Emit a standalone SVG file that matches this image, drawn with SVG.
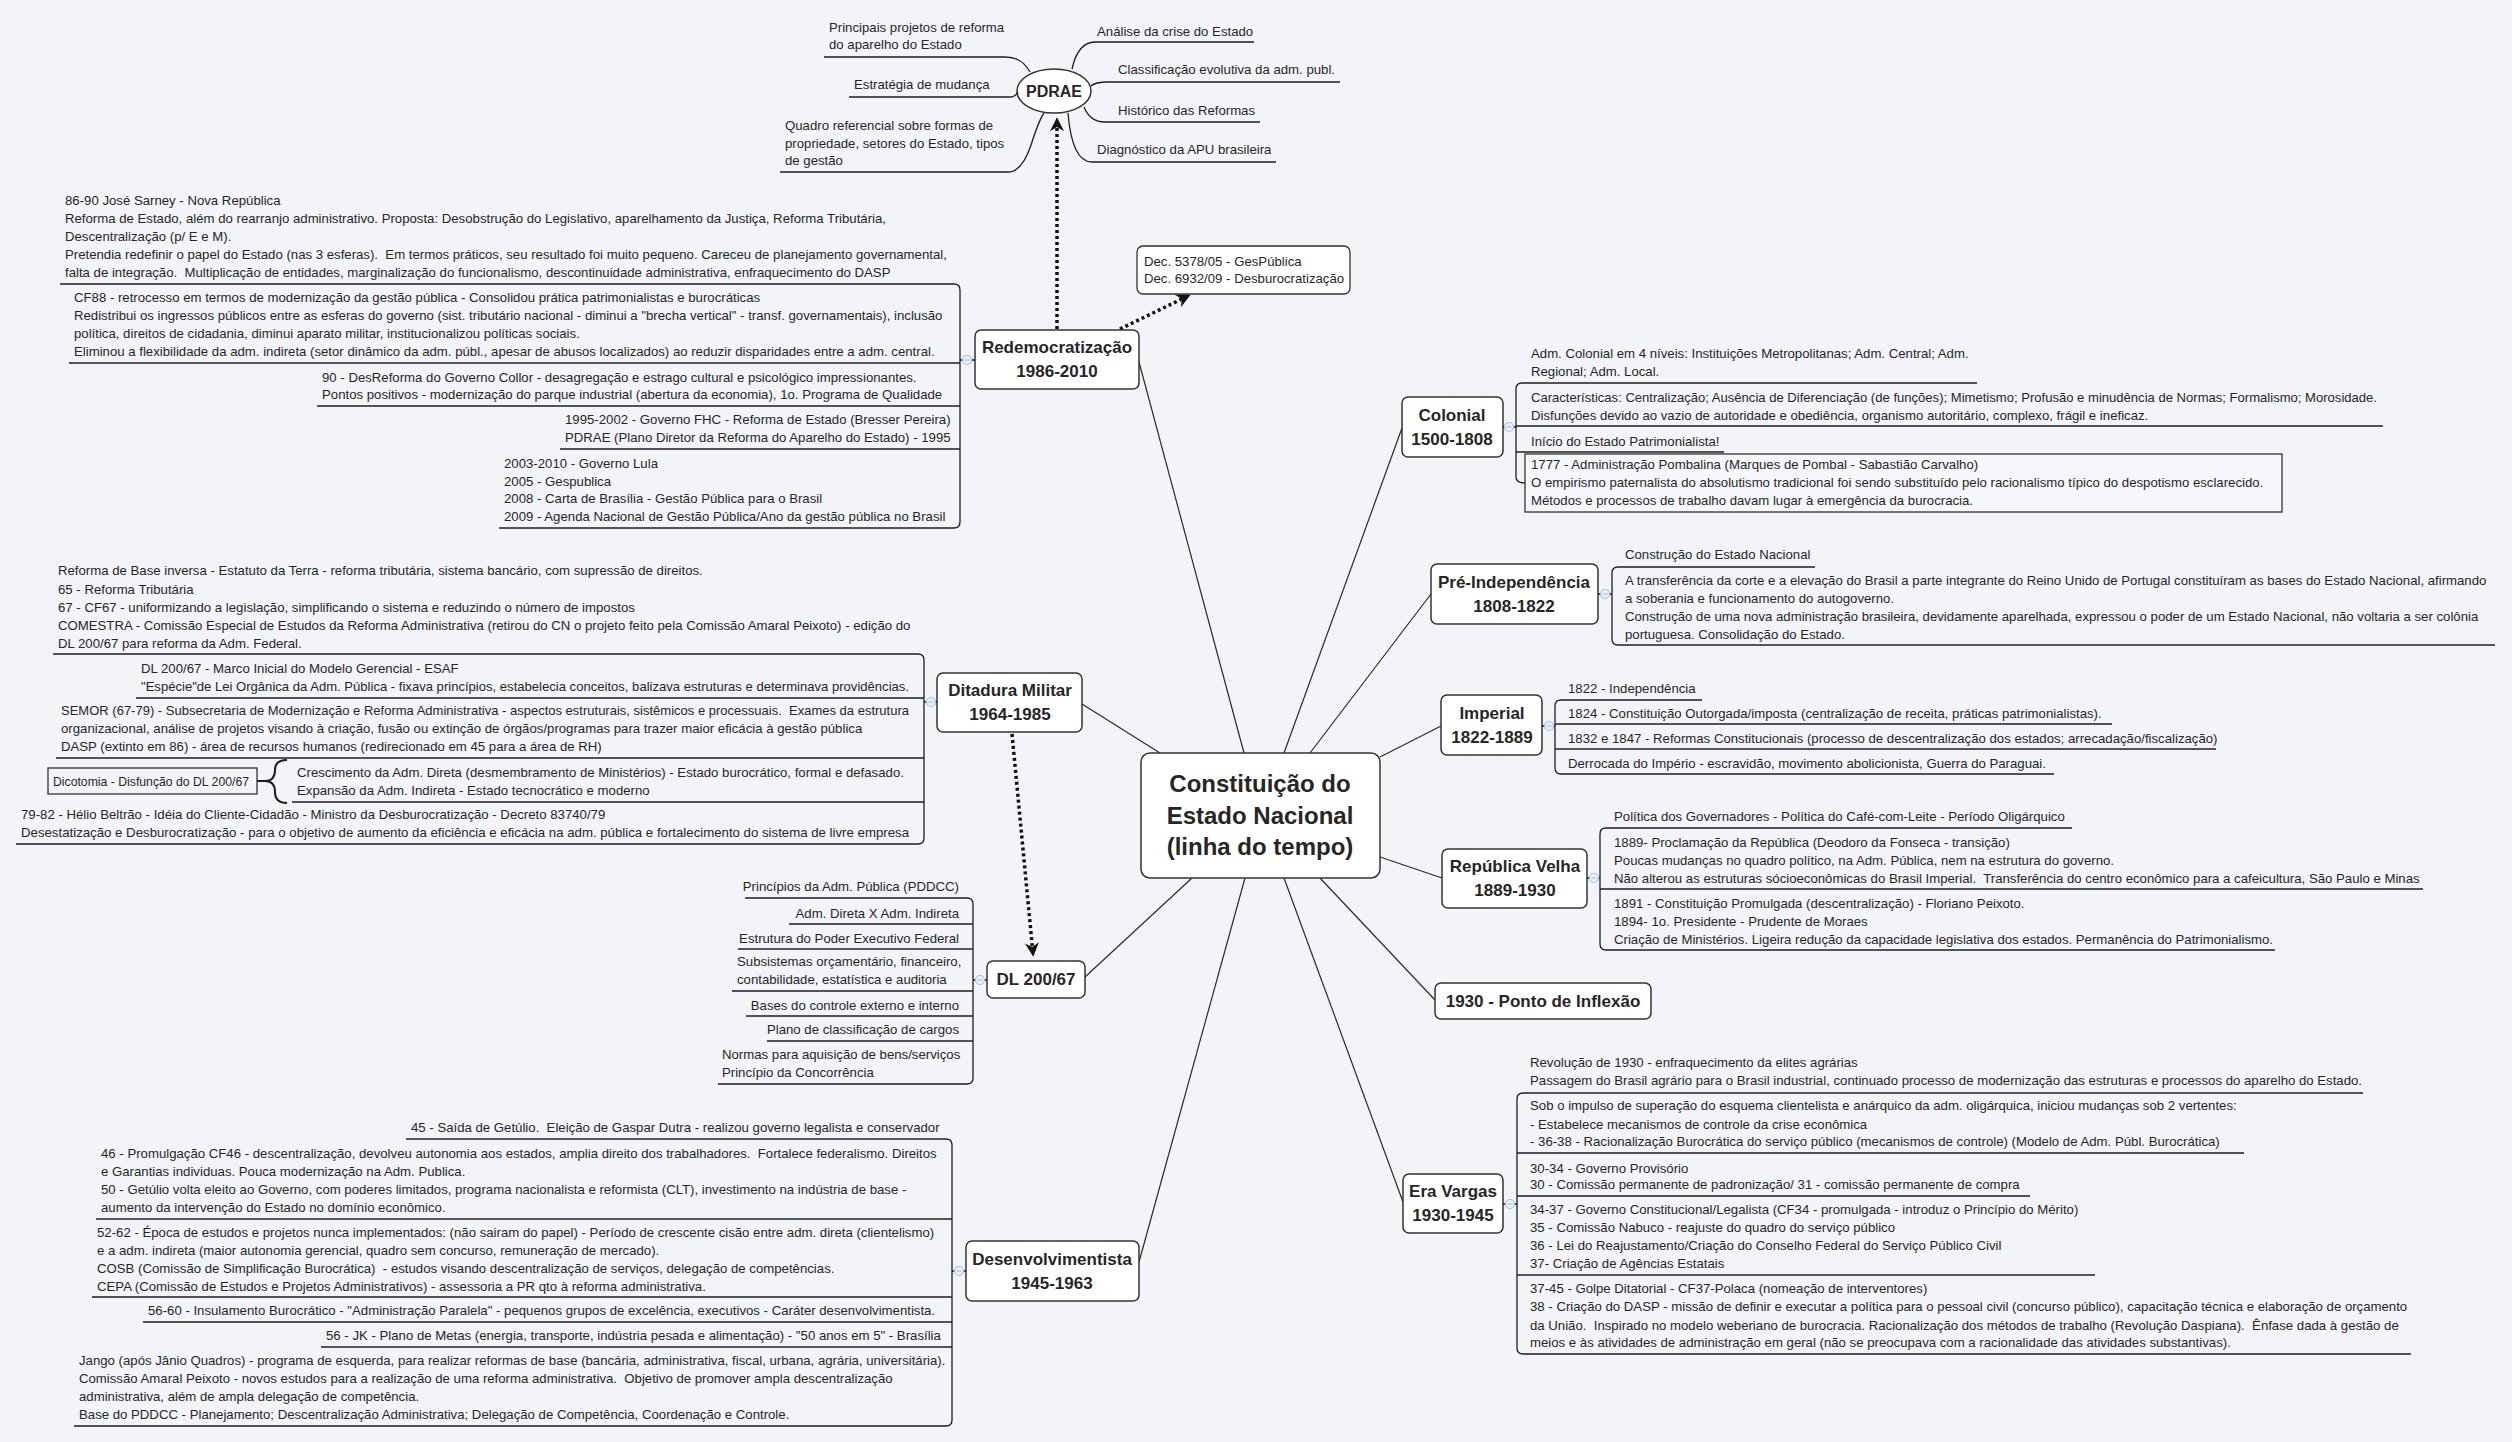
<svg xmlns="http://www.w3.org/2000/svg" width="2512" height="1442" viewBox="0 0 2512 1442">
<defs>
<style>
.t{font-family:"Liberation Sans",Arial,sans-serif;font-size:13.2px;fill:#262626;white-space:pre}
.e{text-anchor:end}
.h{font-family:"Liberation Sans",Arial,sans-serif;font-weight:bold;font-size:17px;fill:#262626;text-anchor:middle}
.ln{fill:none;stroke:#1e1e1e;stroke-width:1.3}
.box{fill:#ffffff;stroke:#333333;stroke-width:1.5}
.sq{fill:none;stroke:#333333;stroke-width:1.3}
.con{fill:none;stroke:#2a2a2a;stroke-width:1.2}
.dot{fill:none;stroke:#111111;stroke-width:3.5;stroke-dasharray:3 3}
.cc{fill:#e9eff9;stroke:#a9bfe0;stroke-width:1.2}
.cm{stroke:#a9bfe0;stroke-width:1.2}
</style>
<marker id="arr" viewBox="0 0 10 10" refX="8" refY="5" markerWidth="4" markerHeight="4" orient="auto" markerUnits="strokeWidth">
<path d="M0,0 L10,5 L0,10 L3,5 z" fill="#111111"/>
</marker>
</defs>
<rect x="0" y="0" width="2512" height="1442" fill="#f2f4f8"/>

<g id="connectors">
<path class="con" d="M1244,753 L1139,362"/>
<path class="con" d="M1284,753 L1402,428"/>
<path class="con" d="M1310,753 L1431,594"/>
<path class="con" d="M1380,757 L1441,726"/>
<path class="con" d="M1380,857 L1442,878"/>
<path class="con" d="M1320,878 L1435,1000"/>
<path class="con" d="M1284,878 L1403,1202"/>
<path class="con" d="M1160,753 L1082,704"/>
<path class="con" d="M1192,878 L1085,977"/>
<path class="con" d="M1245,878 L1139,1262"/>
<path class="dot" d="M1057,329 L1057,120" marker-end="url(#arr)"/>
<path class="dot" d="M1120,329 L1188,296" marker-end="url(#arr)"/>
<path class="dot" d="M1012,734 L1033,954" marker-end="url(#arr)"/>
</g>

<g id="central">
<rect class="box" x="1141" y="753" width="239" height="125" rx="9"/>
<text class="h" style="font-size:24px" x="1260" y="792">Constituição do</text>
<text class="h" style="font-size:24px" x="1260" y="824">Estado Nacional</text>
<text class="h" style="font-size:24px" x="1260" y="855">(linha do tempo)</text>
</g>

<g id="pdrae">
<ellipse class="box" cx="1054" cy="91" rx="37" ry="22"/>
<text class="h" style="font-size:16px" x="1054" y="97">PDRAE</text>
<path class="ln" d="M824,57 H1005 Q1022,57 1030,72"/>
<path class="ln" d="M849,97 H1010 Q1015,97 1018,92"/>
<path class="ln" d="M780,172 H1008 Q1022,172 1031,145 Q1039,120 1044,113"/>
<path class="ln" d="M1072,69 Q1078,42 1095,42 H1254"/>
<path class="ln" d="M1091,86 Q1095,82 1108,82 H1340"/>
<path class="ln" d="M1084,107 Q1090,122 1105,122 H1260"/>
<path class="ln" d="M1068,113 Q1072,162 1092,162 H1276"/>
<text class="t" x="829" y="32">Principais projetos de reforma</text>
<text class="t" x="829" y="49">do aparelho do Estado</text>
<text class="t" x="854" y="89">Estratégia de mudança</text>
<text class="t" x="785" y="130">Quadro referencial sobre formas de</text>
<text class="t" x="785" y="148">propriedade, setores do Estado, tipos</text>
<text class="t" x="785" y="165">de gestão</text>
<text class="t" x="1097" y="36">Análise da crise do Estado</text>
<text class="t" x="1118" y="74">Classificação evolutiva da adm. publ.</text>
<text class="t" x="1118" y="115">Histórico das Reformas</text>
<text class="t" x="1097" y="154">Diagnóstico da APU brasileira</text>
</g>

<g id="dec">
<rect class="box" style="stroke-width:1.3" x="1137" y="246" width="213" height="48" rx="6"/>
<text class="t" x="1144" y="266">Dec. 5378/05 - GesPública</text>
<text class="t" x="1144" y="283">Dec. 6932/09 - Desburocratização</text>
</g>

<g id="redemocratizacao">
<rect class="box" x="975" y="330" width="164" height="59" rx="6"/>
<text class="h" x="1057" y="353">Redemocratização</text>
<text class="h" x="1057" y="377">1986-2010</text>
<path class="ln" d="M60,284 H954 Q960,284 960,290 V522 Q960,528 954,528 H499"/>
<path class="ln" d="M69,363 H960 M317,406 H960 M560,449 H960 M960,360 H975"/>
<circle class="cc" cx="967" cy="360" r="4.5"/><path class="cm" d="M964.5,360 H969.5"/>
<text class="t" x="65" y="205">86-90 José Sarney - Nova República</text>
<text class="t" x="65" y="223">Reforma de Estado, além do rearranjo administrativo. Proposta: Desobstrução do Legislativo, aparelhamento da Justiça, Reforma Tributária,</text>
<text class="t" x="65" y="241">Descentralização (p/ E e M).</text>
<text class="t" x="65" y="259">Pretendia redefinir o papel do Estado (nas 3 esferas).  Em termos práticos, seu resultado foi muito pequeno. Careceu de planejamento governamental,</text>
<text class="t" x="65" y="277">falta de integração.  Multiplicação de entidades, marginalização do funcionalismo, descontinuidade administrativa, enfraquecimento do DASP</text>
<text class="t" x="74" y="302">CF88 - retrocesso em termos de modernização da gestão pública - Consolidou prática patrimonialistas e burocráticas</text>
<text class="t" x="74" y="320">Redistribui os ingressos públicos entre as esferas do governo (sist. tributário nacional - diminui a "brecha vertical" - transf. governamentais), inclusão</text>
<text class="t" x="74" y="338">política, direitos de cidadania, diminui aparato militar, institucionalizou políticas sociais.</text>
<text class="t" x="74" y="356">Eliminou a flexibilidade da adm. indireta (setor dinâmico da adm. públ., apesar de abusos localizados) ao reduzir disparidades entre a adm. central.</text>
<text class="t" x="322" y="382">90 - DesReforma do Governo Collor - desagregação e estrago cultural e psicológico impressionantes.</text>
<text class="t" x="322" y="399">Pontos positivos - modernização do parque industrial (abertura da economia), 1o. Programa de Qualidade</text>
<text class="t" x="565" y="424">1995-2002 - Governo FHC - Reforma de Estado (Bresser Pereira)</text>
<text class="t" x="565" y="442">PDRAE (Plano Diretor da Reforma do Aparelho do Estado) - 1995</text>
<text class="t" x="504" y="468">2003-2010 - Governo Lula</text>
<text class="t" x="504" y="486">2005 - Gespublica</text>
<text class="t" x="504" y="503">2008 - Carta de Brasília - Gestão Pública para o Brasil</text>
<text class="t" x="504" y="521">2009 - Agenda Nacional de Gestão Pública/Ano da gestão pública no Brasil</text>
</g>

<g id="colonial">
<rect class="box" x="1402" y="397" width="101" height="60" rx="6"/>
<text class="h" x="1452" y="421">Colonial</text>
<text class="h" x="1452" y="445">1500-1808</text>
<path class="ln" d="M1977,383 H1522 Q1516,383 1516,389 V477 Q1516,483 1525,483"/>
<path class="ln" d="M1516,426 H2383 M1516,452 H1724 M1503,427 H1516"/>
<circle class="cc" cx="1509" cy="427" r="4.5"/><path class="cm" d="M1506.5,427 H1511.5"/>
<rect class="sq" x="1525" y="454" width="757" height="58" style="fill:#f6f7fa"/>
<text class="t" x="1531" y="358">Adm. Colonial em 4 níveis: Instituições Metropolitanas; Adm. Central; Adm.</text>
<text class="t" x="1531" y="376">Regional; Adm. Local.</text>
<text class="t" x="1531" y="402" textLength="846" lengthAdjust="spacingAndGlyphs">Características: Centralização; Ausência de Diferenciação (de funções); Mimetismo; Profusão e minudência de Normas; Formalismo; Morosidade.</text>
<text class="t" x="1531" y="420">Disfunções devido ao vazio de autoridade e obediência, organismo autoritário, complexo, frágil e ineficaz.</text>
<text class="t" x="1531" y="446">Início do Estado Patrimonialista!</text>
<text class="t" x="1531" y="469">1777 - Administração Pombalina (Marques de Pombal - Sabastião Carvalho)</text>
<text class="t" x="1531" y="487">O empirismo paternalista do absolutismo tradicional foi sendo substituído pelo racionalismo típico do despotismo esclarecido.</text>
<text class="t" x="1531" y="505">Métodos e processos de trabalho davam lugar à emergência da burocracia.</text>
</g>

<g id="pre-independencia">
<rect class="box" x="1431" y="564" width="167" height="60" rx="6"/>
<text class="h" x="1514" y="588">Pré-Independência</text>
<text class="h" x="1514" y="612">1808-1822</text>
<path class="ln" d="M1815,567 H1618 Q1612,567 1612,573 V639 Q1612,645 1618,645 H2495 M1598,594 H1612"/>
<circle class="cc" cx="1605" cy="594" r="4.5"/><path class="cm" d="M1602.5,594 H1607.5"/>
<text class="t" x="1625" y="559">Construção do Estado Nacional</text>
<text class="t" x="1625" y="585">A transferência da corte e a elevação do Brasil a parte integrante do Reino Unido de Portugal constituíram as bases do Estado Nacional, afirmando</text>
<text class="t" x="1625" y="603">a soberania e funcionamento do autogoverno.</text>
<text class="t" x="1625" y="621">Construção de uma nova administração brasileira, devidamente aparelhada, expressou o poder de um Estado Nacional, não voltaria a ser colônia</text>
<text class="t" x="1625" y="639">portuguesa. Consolidação do Estado.</text>
</g>

<g id="imperial">
<rect class="box" x="1441" y="695" width="101" height="60" rx="6"/>
<text class="h" x="1492" y="719">Imperial</text>
<text class="h" x="1492" y="743">1822-1889</text>
<path class="ln" d="M1702,700 H1561 Q1555,700 1555,706 V768 Q1555,774 1561,774 H2054 M1555,724 H2112 M1555,749 H2216 M1542,726 H1555"/>
<circle class="cc" cx="1549" cy="726" r="4.5"/><path class="cm" d="M1546.5,726 H1551.5"/>
<text class="t" x="1568" y="693">1822 - Independência</text>
<text class="t" x="1568" y="718">1824 - Constituição Outorgada/imposta (centralização de receita, práticas patrimonialistas).</text>
<text class="t" x="1568" y="743">1832 e 1847 - Reformas Constitucionais (processo de descentralização dos estados; arrecadação/fiscalização)</text>
<text class="t" x="1568" y="768">Derrocada do Império - escravidão, movimento abolicionista, Guerra do Paraguai.</text>
</g>

<g id="republica-velha">
<rect class="box" x="1442" y="849" width="145" height="59" rx="6"/>
<text class="h" x="1515" y="872">República Velha</text>
<text class="h" x="1515" y="896">1889-1930</text>
<path class="ln" d="M2072,828 H1606 Q1600,828 1600,834 V944 Q1600,950 1606,950 H2275 M1600,889 H2423 M1587,878 H1600"/>
<circle class="cc" cx="1594" cy="878" r="4.5"/><path class="cm" d="M1591.5,878 H1596.5"/>
<text class="t" x="1614" y="821">Política dos Governadores - Política do Café-com-Leite - Período Oligárquico</text>
<text class="t" x="1614" y="847">1889- Proclamação da República (Deodoro da Fonseca - transição)</text>
<text class="t" x="1614" y="865">Poucas mudanças no quadro político, na Adm. Pública, nem na estrutura do governo.</text>
<text class="t" x="1614" y="883">Não alterou as estruturas sócioeconômicas do Brasil Imperial.  Transferência do centro econômico para a cafeicultura, São Paulo e Minas</text>
<text class="t" x="1614" y="908">1891 - Constituição Promulgada (descentralização) - Floriano Peixoto.</text>
<text class="t" x="1614" y="926">1894- 1o. Presidente - Prudente de Moraes</text>
<text class="t" x="1614" y="944">Criação de Ministérios. Ligeira redução da capacidade legislativa dos estados. Permanência do Patrimonialismo.</text>
</g>

<g id="ponto-inflexao">
<rect class="box" x="1435" y="983" width="216" height="36" rx="6"/>
<text class="h" x="1543" y="1007">1930 - Ponto de Inflexão</text>
</g>

<g id="era-vargas">
<rect class="box" x="1403" y="1174" width="100" height="59" rx="6"/>
<text class="h" x="1453" y="1197">Era Vargas</text>
<text class="h" x="1453" y="1221">1930-1945</text>
<path class="ln" d="M2363,1093 H1523 Q1517,1093 1517,1099 V1348 Q1517,1354 1523,1354 H2411 M1517,1153 H2244 M1517,1196 H2030 M1517,1275 H2095 M1503,1204 H1517"/>
<circle class="cc" cx="1510" cy="1204" r="4.5"/><path class="cm" d="M1507.5,1204 H1512.5"/>
<text class="t" x="1530" y="1067">Revolução de 1930 - enfraquecimento da elites agrárias</text>
<text class="t" x="1530" y="1085">Passagem do Brasil agrário para o Brasil industrial, continuado processo de modernização das estruturas e processos do aparelho do Estado.</text>
<text class="t" x="1530" y="1110">Sob o impulso de superação do esquema clientelista e anárquico da adm. oligárquica, iniciou mudanças sob 2 vertentes:</text>
<text class="t" x="1530" y="1129">- Estabelece mecanismos de controle da crise econômica</text>
<text class="t" x="1530" y="1146">- 36-38 - Racionalização Burocrática do serviço público (mecanismos de controle) (Modelo de Adm. Públ. Burocrática)</text>
<text class="t" x="1530" y="1173">30-34 - Governo Provisório</text>
<text class="t" x="1530" y="1189">30 - Comissão permanente de padronização/ 31 - comissão permanente de compra</text>
<text class="t" x="1530" y="1214">34-37 - Governo Constitucional/Legalista (CF34 - promulgada - introduz o Princípio do Mérito)</text>
<text class="t" x="1530" y="1232">35 - Comissão Nabuco - reajuste do quadro do serviço público</text>
<text class="t" x="1530" y="1250">36 - Lei do Reajustamento/Criação do Conselho Federal do Serviço Público Civil</text>
<text class="t" x="1530" y="1268">37- Criação de Agências Estatais</text>
<text class="t" x="1530" y="1293">37-45 - Golpe Ditatorial - CF37-Polaca (nomeação de interventores)</text>
<text class="t" x="1530" y="1311">38 - Criação do DASP - missão de definir e executar a política para o pessoal civil (concurso público), capacitação técnica e elaboração de orçamento</text>
<text class="t" x="1530" y="1330">da União.  Inspirado no modelo weberiano de burocracia. Racionalização dos métodos de trabalho (Revolução Daspiana).  Ênfase dada à gestão de</text>
<text class="t" x="1530" y="1347">meios e às atividades de administração em geral (não se preocupava com a racionalidade das atividades substantivas).</text>
</g>

<g id="ditadura-militar">
<rect class="box" x="937" y="673" width="145" height="59" rx="6"/>
<text class="h" x="1010" y="696">Ditadura Militar</text>
<text class="h" x="1010" y="720">1964-1985</text>
<path class="ln" d="M53,654 H918 Q924,654 924,660 V838 Q924,844 918,844 H16 M136,698 H924 M56,758 H924 M292,802 H924 M924,702 H937"/>
<circle class="cc" cx="931" cy="702" r="4.5"/><path class="cm" d="M928.5,702 H933.5"/>
<text class="t" x="58" y="575">Reforma de Base inversa - Estatuto da Terra - reforma tributária, sistema bancário, com supressão de direitos.</text>
<text class="t" x="58" y="594">65 - Reforma Tributária</text>
<text class="t" x="58" y="612">67 - CF67 - uniformizando a legislação, simplificando o sistema e reduzindo o número de impostos</text>
<text class="t" x="58" y="630">COMESTRA - Comissão Especial de Estudos da Reforma Administrativa (retirou do CN o projeto feito pela Comissão Amaral Peixoto) - edição do</text>
<text class="t" x="58" y="648">DL 200/67 para reforma da Adm. Federal.</text>
<text class="t" x="141" y="673">DL 200/67 - Marco Inicial do Modelo Gerencial - ESAF</text>
<text class="t" x="141" y="691" textLength="768" lengthAdjust="spacingAndGlyphs">"Espécie"de Lei Orgânica da Adm. Pública - fixava princípios, estabelecia conceitos, balizava estruturas e determinava providências.</text>
<text class="t" x="61" y="715" textLength="848" lengthAdjust="spacingAndGlyphs">SEMOR (67-79) - Subsecretaria de Modernização e Reforma Administrativa - aspectos estruturais, sistêmicos e processuais.  Exames da estrutura</text>
<text class="t" x="61" y="733">organizacional, análise de projetos visando à criação, fusão ou extinção de órgãos/programas para trazer maior eficácia à gestão pública</text>
<text class="t" x="61" y="751">DASP (extinto em 86) - área de recursos humanos (redirecionado em 45 para a área de RH)</text>
<text class="t" x="297" y="777">Crescimento da Adm. Direta (desmembramento de Ministérios) - Estado burocrático, formal e defasado.</text>
<text class="t" x="297" y="795">Expansão da Adm. Indireta - Estado tecnocrático e moderno</text>
<text class="t" x="21" y="819">79-82 - Hélio Beltrão - Idéia do Cliente-Cidadão - Ministro da Desburocratização - Decreto 83740/79</text>
<text class="t" x="21" y="837" textLength="888" lengthAdjust="spacingAndGlyphs">Desestatização e Desburocratização - para o objetivo de aumento da eficiência e eficácia na adm. pública e fortalecimento do sistema de livre empresa</text>
</g>

<g id="dicotomia">
<rect class="sq" x="48" y="768" width="209" height="26"/>
<text class="t" x="53" y="786" textLength="196" lengthAdjust="spacingAndGlyphs">Dicotomia - Disfunção do DL 200/67</text>
<path class="ln" style="stroke-width:2" d="M257,781 H265 M287,760 Q275,760 275,770 Q275,781 265,781 Q275,781 275,792 Q275,803 287,803"/>
</g>

<g id="dl-200-67">
<rect class="box" x="987" y="961" width="98" height="37" rx="6"/>
<text class="h" x="1036" y="985">DL 200/67</text>
<path class="ln" d="M745,898 H967 Q973,898 973,904 V1078 Q973,1084 967,1084 H718 M789,924 H973 M738,949 H973 M732,991 H973 M746,1016 H973 M767,1041 H973 M973,980 H987"/>
<circle class="cc" cx="980" cy="980" r="4.5"/><path class="cm" d="M977.5,980 H982.5"/>
<text class="t e" x="959" y="891">Princípios da Adm. Pública (PDDCC)</text>
<text class="t e" x="959" y="918">Adm. Direta X Adm. Indireta</text>
<text class="t e" x="959" y="943">Estrutura do Poder Executivo Federal</text>
<text class="t" x="737" y="966">Subsistemas orçamentário, financeiro,</text>
<text class="t" x="737" y="984">contabilidade, estatística e auditoria</text>
<text class="t e" x="959" y="1010">Bases do controle externo e interno</text>
<text class="t e" x="959" y="1034">Plano de classificação de cargos</text>
<text class="t" x="722" y="1059">Normas para aquisição de bens/serviços</text>
<text class="t" x="722" y="1077">Princípio da Concorrência</text>
</g>

<g id="desenvolvimentista">
<rect class="box" x="966" y="1241" width="173" height="60" rx="6"/>
<text class="h" x="1052" y="1265">Desenvolvimentista</text>
<text class="h" x="1052" y="1289">1945-1963</text>
<path class="ln" d="M406,1139 H946 Q952,1139 952,1145 V1420 Q952,1426 946,1426 H74 M96,1219 H952 M92,1297 H952 M143,1322 H952 M321,1347 H952 M952,1271 H966"/>
<circle class="cc" cx="959" cy="1271" r="4.5"/><path class="cm" d="M956.5,1271 H961.5"/>
<text class="t" x="411" y="1132">45 - Saída de Getúlio.  Eleição de Gaspar Dutra - realizou governo legalista e conservador</text>
<text class="t" x="101" y="1158">46 - Promulgação CF46 - descentralização, devolveu autonomia aos estados, amplia direito dos trabalhadores.  Fortalece federalismo. Direitos</text>
<text class="t" x="101" y="1176">e Garantias individuas. Pouca modernização na Adm. Publica.</text>
<text class="t" x="101" y="1194">50 - Getúlio volta eleito ao Governo, com poderes limitados, programa nacionalista e reformista (CLT), investimento na indústria de base -</text>
<text class="t" x="101" y="1212">aumento da intervenção do Estado no domínio econômico.</text>
<text class="t" x="97" y="1237">52-62 - Época de estudos e projetos nunca implementados: (não sairam do papel) - Período de crescente cisão entre adm. direta (clientelismo)</text>
<text class="t" x="97" y="1255">e a adm. indireta (maior autonomia gerencial, quadro sem concurso, remuneração de mercado).</text>
<text class="t" x="97" y="1273">COSB (Comissão de Simplificação Burocrática)  - estudos visando descentralização de serviços, delegação de competências.</text>
<text class="t" x="97" y="1291">CEPA (Comissão de Estudos e Projetos Administrativos) - assessoria a PR qto à reforma administrativa.</text>
<text class="t" x="148" y="1315">56-60 - Insulamento Burocrático - "Administração Paralela" - pequenos grupos de excelência, executivos - Caráter desenvolvimentista.</text>
<text class="t" x="326" y="1340">56 - JK - Plano de Metas (energia, transporte, indústria pesada e alimentação) - "50 anos em 5" - Brasília</text>
<text class="t" x="79" y="1365">Jango (após Jânio Quadros) - programa de esquerda, para realizar reformas de base (bancária, administrativa, fiscal, urbana, agrária, universitária).</text>
<text class="t" x="79" y="1383">Comissão Amaral Peixoto - novos estudos para a realização de uma reforma administrativa.  Objetivo de promover ampla descentralização</text>
<text class="t" x="79" y="1401">administrativa, além de ampla delegação de competência.</text>
<text class="t" x="79" y="1419">Base do PDDCC - Planejamento; Descentralização Administrativa; Delegação de Competência, Coordenação e Controle.</text>
</g>
</svg>
